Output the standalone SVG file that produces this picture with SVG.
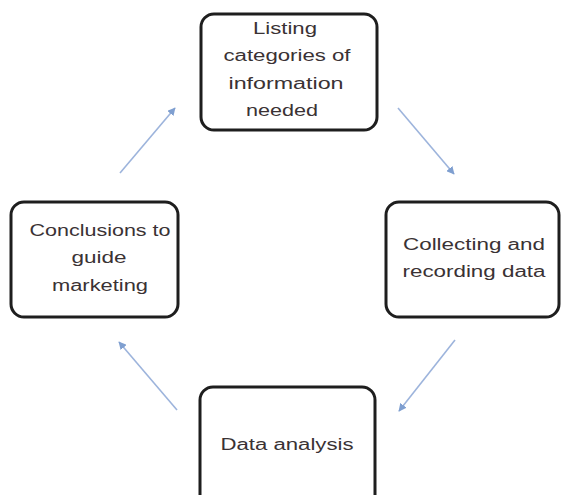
<svg xmlns="http://www.w3.org/2000/svg" width="562" height="495" viewBox="0 0 562 495">
<style>
.box{fill:#ffffff;stroke:#1e1e1e;stroke-width:3}
.t{font-family:"Liberation Sans",Arial,sans-serif;font-size:16px;fill:#3a3234;text-anchor:middle}
.c{stroke:#9db4dc;stroke-width:1.6;fill:none;marker-end:url(#ah)}
</style>
<defs>
<marker id="ah" viewBox="0 0 10 10" refX="9" refY="5" markerWidth="5" markerHeight="5" orient="auto" markerUnits="strokeWidth">
<path d="M0,0 L10,5 L0,10 z" fill="#7f9fd0"/>
</marker>
</defs>
<rect width="562" height="495" fill="#ffffff"/>
<g id="connectors">
<line class="c" x1="398" y1="108" x2="454" y2="174"/>
<line class="c" x1="455" y1="340" x2="399" y2="411"/>
<line class="c" x1="177" y1="410" x2="119" y2="342"/>
<line class="c" x1="120" y1="173" x2="175" y2="108"/>
</g>
<g id="node-listing">
<rect class="box" x="201" y="14" width="176" height="116" rx="13"/>
<text class="t" x="285" y="34" textLength="64" lengthAdjust="spacingAndGlyphs">Listing</text>
<text class="t" x="287" y="61" textLength="127" lengthAdjust="spacingAndGlyphs">categories of</text>
<text class="t" x="286" y="89" textLength="115" lengthAdjust="spacingAndGlyphs">information</text>
<text class="t" x="282" y="116" textLength="72" lengthAdjust="spacingAndGlyphs">needed</text>
</g>
<g id="node-collecting">
<rect class="box" x="386" y="202" width="173" height="115" rx="13"/>
<text class="t" x="474" y="250" textLength="142" lengthAdjust="spacingAndGlyphs">Collecting and</text>
<text class="t" x="474" y="277" textLength="143" lengthAdjust="spacingAndGlyphs">recording data</text>
</g>
<g id="node-analysis">
<rect class="box" x="200" y="387" width="175" height="130" rx="13"/>
<text class="t" x="287" y="450" textLength="133" lengthAdjust="spacingAndGlyphs">Data analysis</text>
</g>
<g id="node-conclusions">
<rect class="box" x="11" y="202" width="167" height="115" rx="13"/>
<text class="t" x="100" y="236" textLength="141" lengthAdjust="spacingAndGlyphs">Conclusions to</text>
<text class="t" x="99" y="263" textLength="55" lengthAdjust="spacingAndGlyphs">guide</text>
<text class="t" x="100" y="291" textLength="96" lengthAdjust="spacingAndGlyphs">marketing</text>
</g>
</svg>
